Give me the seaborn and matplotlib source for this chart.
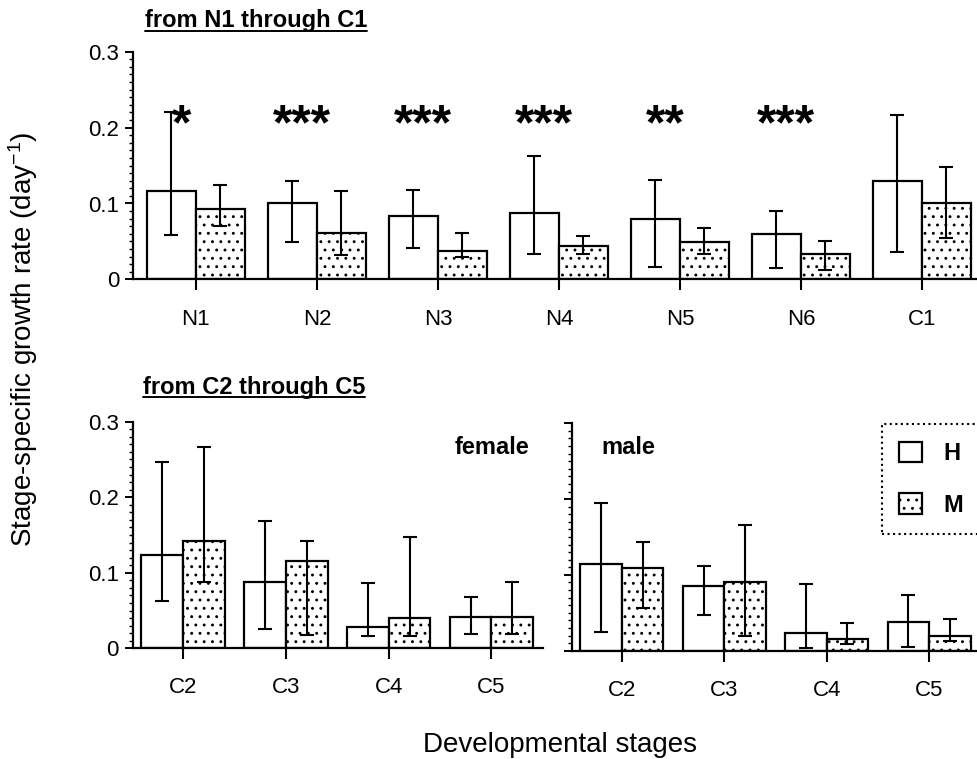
import numpy as np
import pandas as pd
import matplotlib
matplotlib.use("Agg")
import matplotlib.pyplot as plt
import seaborn as sns
from matplotlib.lines import Line2D
from matplotlib.patches import Patch
from matplotlib.ticker import FixedLocator, MultipleLocator

# ---------------- data ----------------
stages_top = ["N1", "N2", "N3", "N4", "N5", "N6", "C1"]
H_top = [0.117, 0.101, 0.083, 0.087, 0.080, 0.060, 0.129]
H_top_lo = [0.058, 0.049, 0.042, 0.033, 0.016, 0.015, 0.036]
H_top_hi = [0.220, 0.129, 0.118, 0.162, 0.131, 0.090, 0.216]
M_top = [0.093, 0.061, 0.038, 0.044, 0.049, 0.033, 0.101]
M_top_lo = [0.071, 0.032, 0.030, 0.034, 0.034, 0.013, 0.055]
M_top_hi = [0.124, 0.116, 0.061, 0.057, 0.068, 0.050, 0.148]
signif = ["*", "***", "***", "***", "**", "***", ""]

stages_bot = ["C2", "C3", "C4", "C5"]
H_fem = [0.123, 0.088, 0.028, 0.042]
H_fem_lo = [0.063, 0.026, 0.016, 0.019]
H_fem_hi = [0.247, 0.168, 0.087, 0.068]
M_fem = [0.142, 0.116, 0.040, 0.042]
M_fem_lo = [0.088, 0.018, 0.016, 0.019]
M_fem_hi = [0.267, 0.142, 0.147, 0.088]

H_mal = [0.115, 0.086, 0.024, 0.038]
H_mal_lo = [0.025, 0.047, 0.004, 0.005]
H_mal_hi = [0.195, 0.112, 0.088, 0.073]
M_mal = [0.109, 0.090, 0.016, 0.020]
M_mal_lo = [0.056, 0.020, 0.009, 0.013]
M_mal_hi = [0.143, 0.166, 0.037, 0.042]

groups = ["H", "M"]
ytick_vals = [0.0, 0.1, 0.2, 0.3]
ytick_labels = ["0", "0.1", "0.2", "0.3"]

# ---------------- style ----------------
sns.set_style("ticks")
plt.rcParams["font.family"] = ["Liberation Sans", "DejaVu Sans"]
plt.rcParams["mathtext.default"] = "regular"
plt.rcParams["hatch.linewidth"] = 0.9
for k in ["text.color", "axes.labelcolor", "xtick.color", "ytick.color", "axes.edgecolor"]:
    plt.rcParams[k] = "black"

W, H = 977, 759
fig = plt.figure(figsize=(W / 100, H / 100), dpi=100)


def ax_px(left, right, top, bottom):
    return fig.add_axes([left / W, 1 - bottom / H, (right - left) / W, (bottom - top) / H])


ax_top = ax_px(133.0, 982.4, 51.7, 279.4)
ax_f = ax_px(132.7, 542.9, 421.7, 648.3)
ax_m = ax_px(571.7, 980.3, 423.3, 650.7)


def draw(ax, stages, h, hlo, hhi, m, mlo, mhi, xlim, ylabels=True):
    n = len(stages)
    df = pd.DataFrame({"stage": stages * 2,
                       "group": ["H"] * n + ["M"] * n,
                       "rate": list(h) + list(m)})
    sns.barplot(data=df, x="stage", y="rate", hue="group", order=stages,
                hue_order=groups, palette={"H": "white", "M": "white"},
                edgecolor="black", linewidth=1.6, errorbar=None, width=0.81,
                gap=0, legend=False, saturation=1, ax=ax)
    for cont, lo, hi in zip(ax.containers, [hlo, mlo], [hhi, mhi]):
        for bar, l, u in zip(cont, lo, hi):
            x = bar.get_x() + bar.get_width() / 2
            y = bar.get_height()
            ax.errorbar(x, y, yerr=[[y - l], [u - y]], fmt="none", ecolor="black",
                        elinewidth=1.5, capsize=5, capthick=1.5, zorder=3)
    for bar in ax.containers[1]:
        bar.set_hatch("..")
    ax.set_xlim(*xlim)
    ax.set_ylim(0, 0.3)
    ax.set_xlabel("")
    ax.set_ylabel("")
    for s in ["top", "right"]:
        ax.spines[s].set_visible(False)
    for s in ["left", "bottom"]:
        ax.spines[s].set_linewidth(1.6)
        ax.spines[s].set_color("black")
    ax.yaxis.set_major_locator(FixedLocator(ytick_vals))
    ax.yaxis.set_minor_locator(MultipleLocator(0.01))
    if ylabels:
        ax.set_yticklabels(ytick_labels)
    ax.tick_params(axis="y", which="major", length=6, width=1.4, direction="out",
                   labelsize=16, pad=4, labelleft=ylabels, colors="black")
    ax.tick_params(axis="y", which="minor", length=3, width=1.0, direction="out",
                   colors="black")
    ax.tick_params(axis="x", which="major", length=8, width=1.5, direction="out",
                   labelsize=16, pad=13, colors="black")
    ax.tick_params(axis="x", which="minor", length=0)
    ax.grid(False)


draw(ax_top, stages_top, H_top, H_top_lo, H_top_hi, M_top, M_top_lo, M_top_hi, (-0.52, 6.5))
draw(ax_f, stages_bot, H_fem, H_fem_lo, H_fem_hi, M_fem, M_fem_lo, M_fem_hi, (-0.49, 3.5))
draw(ax_m, stages_bot, H_mal, H_mal_lo, H_mal_hi, M_mal, M_mal_lo, M_mal_hi, (-0.49, 3.5),
     ylabels=False)

# significance stars
for i, s in enumerate(signif):
    if s:
        ax_top.text(i - 0.12, 0.185, s, ha="center", va="baseline",
                    fontsize=36, fontweight="bold", color="black")

# texts
t1 = fig.text(145 / W, 1 - 27 / H, "from N1 through C1", fontsize=17,
              fontweight="bold", va="baseline")
t2 = fig.text(142.7 / W, 1 - 394 / H, "from C2 through C5", fontsize=17,
              fontweight="bold", va="baseline")
fig.text(455 / W, 1 - 454 / H, "female", fontsize=17, fontweight="bold", va="baseline")
fig.text(601.7 / W, 1 - 454 / H, "male", fontsize=17, fontweight="bold", va="baseline")
fig.text(423 / W, 1 - 752 / H, "Developmental stages", fontsize=20, va="baseline")
fig.text(31.7 / W, 1 - 547 / H, "Stage-specific growth rate (day$^{-1}$)", fontsize=20,
         rotation=90, rotation_mode="anchor", ha="left", va="baseline")

# underline titles
fig.canvas.draw()
renderer = fig.canvas.get_renderer()
for t, ypx in [(t1, 31.0), (t2, 397.3)]:
    bb = t.get_window_extent(renderer)
    fig.add_artist(Line2D([bb.x0 / W, bb.x1 / W], [1 - ypx / H] * 2,
                          color="black", lw=1.4, transform=fig.transFigure))

# legend
handles = [Patch(facecolor="white", edgecolor="black", linewidth=1.6, label="H"),
           Patch(facecolor="white", edgecolor="black", linewidth=1.6, hatch="..", label="M")]
leg = fig.legend(handles=handles, loc="upper left",
                 bbox_to_anchor=(881.7 / W, 1 - 424 / H), frameon=True, fancybox=False,
                 prop={"weight": "bold", "size": 17}, handlelength=0.95,
                 handleheight=0.95, handletextpad=0.9, labelspacing=1.2,
                 borderpad=0.75, borderaxespad=0)
fr = leg.get_frame()
fr.set_linestyle(":")
fr.set_edgecolor("black")
fr.set_linewidth(1.5)
fr.set_facecolor("white")
fr.set_alpha(1)

fig.savefig("out.png", dpi=100)
